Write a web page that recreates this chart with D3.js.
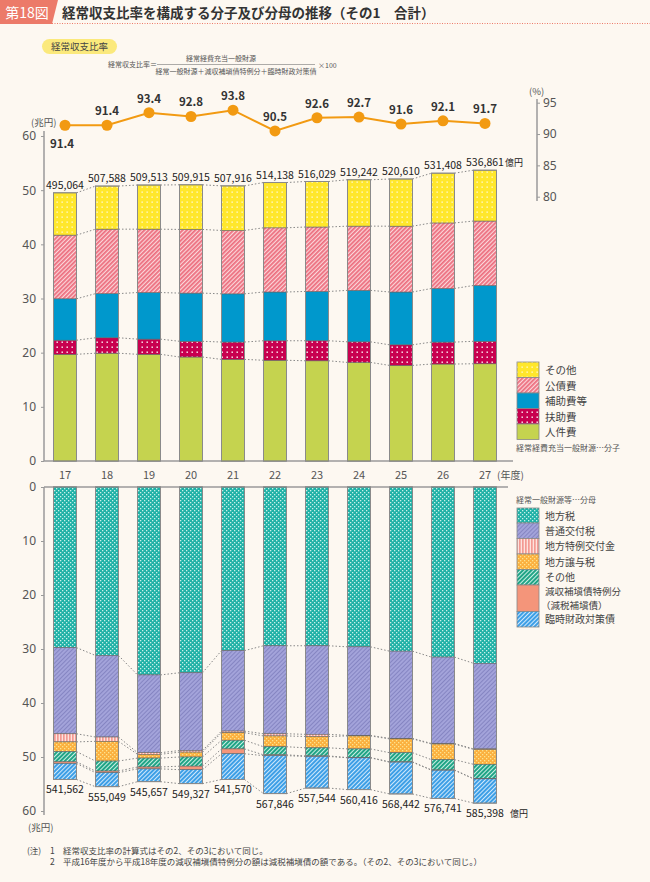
<!DOCTYPE html>
<html><head><meta charset="utf-8">
<script src="https://cdn.jsdelivr.net/npm/d3@7"></script>
<style>
html,body{margin:0;padding:0;background:#fdf8f1;}
svg{display:block;font-family:"Noto Sans CJK JP","Noto Sans",sans-serif;}
</style></head>
<body>
<svg id="c" width="650" height="882"></svg>
<script>
// ---------- data ----------
const years = ["17","18","19","20","21","22","23","24","25","26","27"];
const rates = [91.4,91.4,93.4,92.8,93.8,90.5,92.6,92.7,91.6,92.1,91.7];
// numerator (兆円)
const jinkenhi   = [19.7,19.9,19.7,19.2,18.76,18.6,18.5,18.2,17.65,17.9,17.95];
const fujohi     = [2.6,2.85,2.8,2.9,3.2,3.6,3.7,3.8,3.8,4.05,4.15];
const hojohi     = [7.65,8.15,8.6,8.9,8.9,9.0,9.1,9.5,9.75,9.9,10.3];
const kosaihi    = [11.75,11.9,11.7,11.75,11.7,11.85,11.9,11.86,12.15,12.1,11.9];
const sonotaNum  = [7.81,7.96,8.15,8.24,8.23,8.36,8.4,8.56,8.71,9.19,9.39];
const numTotals  = ["495,064","507,588","509,513","509,915","507,916","514,138","516,029","519,242","520,610","531,408","536,861"];
// denominator (兆円)
const chihozei   = [29.75,31.2,34.8,34.4,30.3,29.4,29.4,29.6,30.4,31.5,32.65];
const futsuKofu  = [15.95,15.1,14.4,14.4,14.9,16.3,16.4,16.4,16.15,16.0,15.85];
const tokurei    = [1.5,0.8,0.3,0.3,0.3,0.4,0.4,0.1,0.1,0.1,0.1];
const joyozei    = [1.8,3.65,0.7,0.9,1.4,2.0,2.1,2.4,2.55,2.9,2.75];
const sonotaDen  = [1.9,1.85,1.65,1.7,1.6,1.5,1.5,1.6,1.7,1.9,2.65];
const genshu     = [0.3,0.3,0.35,0.65,0.9,0.15,0.1,0.05,0.05,0.05,0.05];
const rinzai     = [2.96,2.6,2.37,2.58,4.76,7.03,5.85,5.89,5.89,5.22,4.49];
const denTotals  = ["541,562","555,049","545,657","549,327","541,570","567,846","557,544","560,416","568,442","576,741","585,398"];
const leftTicks  = [0,10,20,30,40,50,60];
const rateTicks  = [80,85,90,95];

const numSeries = [
  {name:"人件費", v:jinkenhi, fill:"url(#pJinken)"},
  {name:"扶助費", v:fujohi, fill:"url(#pFujo)"},
  {name:"補助費等", v:hojohi, fill:"url(#pHojo)"},
  {name:"公債費", v:kosaihi, fill:"url(#pKosai)"},
  {name:"その他", v:sonotaNum, fill:"url(#pSonota)"}
];
const denSeries = [
  {name:"地方税", v:chihozei, fill:"url(#pChiho)"},
  {name:"普通交付税", v:futsuKofu, fill:"url(#pFutsu)"},
  {name:"地方特例交付金", v:tokurei, fill:"url(#pTokurei)"},
  {name:"地方譲与税", v:joyozei, fill:"url(#pJoyo)"},
  {name:"その他", v:sonotaDen, fill:"url(#pSonota2)"},
  {name:"減収補塡債特例分", v:genshu, fill:"url(#pGenshu)"},
  {name:"臨時財政対策債", v:rinzai, fill:"url(#pRinzai)"}
];

const svg = d3.select("#c");
const defs = svg.append("defs");
function pat(id,w,h,bg,draw,rot){
  const p = defs.append("pattern").attr("id",id).attr("patternUnits","userSpaceOnUse")
    .attr("width",w).attr("height",h);
  if(rot) p.attr("patternTransform","rotate("+rot+")");
  p.append("rect").attr("width",w).attr("height",h).attr("fill",bg);
  draw(p);
}
pat("pJinken",4,4,"#c5d34f",()=>{});
pat("pFujo",5,5,"#c8004f",p=>p.append("rect").attr("x",1.5).attr("y",1.5).attr("width",1.4).attr("height",1.4).attr("fill","#fff"));
pat("pHojo",4,4,"#0098cc",()=>{});
pat("pKosai",3,3,"#fbd7da",p=>p.append("rect").attr("width",1.8).attr("height",3).attr("fill","#ec6f7f"),45);
pat("pSonota",5,5,"#ffe72c",p=>p.append("rect").attr("x",1.5).attr("y",1.5).attr("width",1.3).attr("height",1.3).attr("fill","#fffbe0"));
pat("pChiho",4,4,"#1fb1a6",p=>{p.append("rect").attr("x",0).attr("y",0).attr("width",1.3).attr("height",1.3).attr("fill","#c8f0ea");p.append("rect").attr("x",2).attr("y",2).attr("width",1.3).attr("height",1.3).attr("fill","#c8f0ea");});
pat("pFutsu",3,3,"#a3a3da",p=>p.append("rect").attr("width",1).attr("height",3).attr("fill","#8585c2"),45);
pat("pTokurei",3,3,"#fde3de",p=>p.append("rect").attr("width",1.7).attr("height",3).attr("fill","#f39a93"));
pat("pJoyo",4,4,"#fbb03e",p=>{p.append("rect").attr("x",0).attr("y",0).attr("width",1.3).attr("height",1.3).attr("fill","#fde38f");p.append("rect").attr("x",2).attr("y",2).attr("width",1.3).attr("height",1.3).attr("fill","#fde38f");});
pat("pSonota2",3,3,"#20a486",p=>p.append("rect").attr("width",1).attr("height",3).attr("fill","#c9efe4"),45);
pat("pGenshu",4,4,"#f4957a",()=>{});
pat("pRinzai",3,3,"#3d9fe6",p=>p.append("rect").attr("width",1).attr("height",3).attr("fill","#cfe8fb"),45);

const grayText = "#555";
// ---------- header ----------
svg.append("path").attr("d","M0,0 H58 L52,24 H0 Z").attr("fill","#ec7a69");
svg.append("text").attr("x",27).attr("y",18).attr("text-anchor","middle").attr("fill","#fff")
  .attr("font-size",14).text("第18図");
svg.append("text").attr("x",62).attr("y",18).attr("fill","#333").attr("font-size",13.5).attr("font-weight","bold")
  .text("経常収支比率を構成する分子及び分母の推移（その1　合計）");
svg.append("line").attr("x1",52).attr("x2",650).attr("y1",23.5).attr("y2",23.5)
  .attr("stroke","#ec7a69").attr("stroke-width",1).attr("stroke-dasharray","1,1.5");

svg.append("rect").attr("x",42).attr("y",39).attr("width",75).attr("height",15).attr("rx",7.5).attr("fill","#fbe97c");
svg.append("text").attr("x",79.5).attr("y",50).attr("text-anchor","middle").attr("font-size",9.5).attr("fill","#444").text("経常収支比率");
const f = svg.append("g").attr("font-size",7).attr("fill","#555");
f.append("text").attr("x",108).attr("y",67).text("経常収支比率＝");
f.append("text").attr("x",221).attr("y",61).attr("text-anchor","middle").text("経常経費充当一般財源");
svg.append("line").attr("x1",157).attr("x2",315).attr("y1",64.5).attr("y2",64.5).attr("stroke","#777").attr("stroke-width",0.6);
f.append("text").attr("x",236).attr("y",74).attr("text-anchor","middle").text("経常一般財源＋減収補塡債特例分＋臨時財政対策債");
f.append("text").attr("x",318).attr("y",68).text("×100");

// ---------- scales ----------
const x = d3.scalePoint().domain(years).range([65,485]);
const bw = 23;
const yTop = d3.scaleLinear().domain([0,60]).range([461,136]);
const yBot = d3.scaleLinear().domain([0,60]).range([487,811]);
const yRate = d3.scaleLinear().domain([80,95]).range([196.7,102.7]);

function styleAxis(g){
  g.selectAll("path.domain").attr("stroke","#9a9a9a").attr("stroke-width",1.5);
  g.selectAll(".tick line").attr("stroke","#9a9a9a");
  g.selectAll(".tick text").attr("fill",grayText).attr("font-size",12).attr("font-family","Noto Sans,sans-serif");
}
// top axis
const ga = svg.append("g").attr("transform","translate(44,0)")
  .call(d3.axisLeft(yTop).tickValues(leftTicks).tickSize(3).tickPadding(5));
ga.select("path.domain").attr("d","M-0,461V131");
styleAxis(ga);
svg.append("line").attr("x1",44).attr("x2",513).attr("y1",461).attr("y2",461).attr("stroke","#9a9a9a").attr("stroke-width",1.5);
svg.append("text").attr("x",31).attr("y",126).attr("font-size",9.5).attr("fill",grayText).text("(兆円)");

// bottom axis
const gb = svg.append("g").attr("transform","translate(44,0)")
  .call(d3.axisLeft(yBot).tickValues(leftTicks).tickSize(3).tickPadding(5));
gb.select("path.domain").attr("d","M-0,487V815");
styleAxis(gb);
svg.append("line").attr("x1",44).attr("x2",508).attr("y1",487).attr("y2",487).attr("stroke","#9a9a9a").attr("stroke-width",1.5);
svg.append("text").attr("x",28).attr("y",831).attr("font-size",9.5).attr("fill",grayText).text("(兆円)");

// right axis
const gr = svg.append("g").attr("transform","translate(537,0)")
  .call(d3.axisRight(yRate).tickValues(rateTicks).tickSize(3).tickPadding(3));
gr.select("path.domain").attr("d","M0,99V201");
styleAxis(gr);
svg.append("text").attr("x",529).attr("y",95).attr("font-size",9.5).attr("fill",grayText).text("(%)");

// year labels
svg.append("g").selectAll("text").data(years).join("text")
  .attr("x",d=>x(d)).attr("y",479).attr("text-anchor","middle").attr("font-size",11)
  .attr("fill",grayText).text(d=>d);
svg.append("text").attr("x",497).attr("y",479).attr("font-size",10).attr("fill",grayText).text("(年度)");

// ---------- stacked bars ----------
function stackCum(series){
  return years.map((y,i)=>{
    let c=0; return series.map(s=>{const a=c; c+=s.v[i]; return [a,c];});
  });
}
function drawStack(series, yS){
  const cum = stackCum(series);
  const g = svg.append("g");
  const nb = series.length;
  for(let k=0;k<nb;k++){
    for(let i=0;i<years.length-1;i++){
      const v1 = cum[i][k][1], v2 = cum[i+1][k][1];
      g.append("line").attr("x1",x(years[i])+bw/2).attr("x2",x(years[i+1])-bw/2)
        .attr("y1",yS(v1)).attr("y2",yS(v2)).attr("stroke","#888").attr("stroke-width",1)
        .attr("stroke-dasharray","1.5,2");
    }
  }
  series.forEach((s,k)=>{
    g.append("g").selectAll("rect").data(years).join("rect")
      .attr("x",d=>x(d)-bw/2).attr("width",bw)
      .attr("y",(d,i)=>Math.min(yS(cum[i][k][0]),yS(cum[i][k][1])))
      .attr("height",(d,i)=>Math.abs(yS(cum[i][k][1])-yS(cum[i][k][0])))
      .attr("fill",s.fill).attr("stroke","#666").attr("stroke-width",0.6);
  });
  g.append("g").selectAll("rect").data(years).join("rect")
    .attr("x",d=>x(d)-bw/2).attr("width",bw)
    .attr("y",(d,i)=>Math.min(yS(0),yS(cum[i][nb-1][1])))
    .attr("height",(d,i)=>Math.abs(yS(cum[i][nb-1][1])-yS(0)))
    .attr("fill","none").attr("stroke","#8a8a8a").attr("stroke-width",1);
  return cum;
}
const cumN = drawStack(numSeries, yTop);
const cumD = drawStack(denSeries, yBot);

// total labels
svg.append("g").selectAll("text").data(numTotals).join("text")
  .attr("x",(d,i)=>x(years[i])).attr("y",(d,i)=>yTop(cumN[i][4][1])-4)
  .attr("text-anchor","middle").attr("font-size",10.5).attr("fill","#222").text(d=>d);
svg.append("text").attr("x",x("27")+20).attr("y",yTop(cumN[10][4][1])-4).attr("font-size",9).attr("fill","#222").text("億円");
svg.append("g").selectAll("text").data(denTotals).join("text")
  .attr("x",(d,i)=>x(years[i])).attr("y",(d,i)=>yBot(cumD[i][6][1])+14)
  .attr("text-anchor","middle").attr("font-size",10.5).attr("fill","#222").text(d=>d);
svg.append("text").attr("x",x("27")+25).attr("y",yBot(cumD[10][6][1])+14).attr("font-size",9).attr("fill","#222").text("億円");

// ---------- rate line ----------
svg.append("path").datum(rates)
  .attr("d",d3.line().x((d,i)=>x(years[i])).y(d=>yRate(d)))
  .attr("fill","none").attr("stroke","#f29a12").attr("stroke-width",2);
svg.append("g").selectAll("circle").data(rates).join("circle")
  .attr("cx",(d,i)=>x(years[i])).attr("cy",d=>yRate(d)).attr("r",5.5).attr("fill","#f29a12");
svg.append("g").selectAll("text").data(rates).join("text")
  .attr("x",(d,i)=>x(years[i])+(i===0?-3:0)).attr("y",(d,i)=>i===0?yRate(d)+23:yRate(d)-10)
  .attr("text-anchor","middle").attr("font-size",11.5).attr("font-weight","bold").attr("fill","#333")
  .text(d=>d.toFixed(1));

// ---------- legends ----------
const lg1 = svg.append("g");
const leg1 = numSeries.slice().reverse();
leg1.forEach((s,i)=>{
  lg1.append("rect").attr("x",517).attr("y",362+i*15.5).attr("width",22).attr("height",15.5)
    .attr("fill",s.fill).attr("stroke","#888").attr("stroke-width",0.8);
  lg1.append("text").attr("x",545).attr("y",362+i*15.5+12).attr("font-size",10.5).attr("fill","#444").text(s.name);
});
lg1.append("text").attr("x",516).attr("y",451).attr("font-size",8).attr("fill","#555").text("経常経費充当一般財源…分子");

const lg2 = svg.append("g");
lg2.append("text").attr("x",516).attr("y",503).attr("font-size",8).attr("fill","#555").text("経常一般財源等…分母");
const hs = [15,15.5,15.5,15.5,15.5,26.5,15.5];
const labels2 = [["地方税"],["普通交付税"],["地方特例交付金"],["地方譲与税"],["その他"],["減収補塡債特例分","（減税補塡債）"],["臨時財政対策債"]];
let yy = 508;
denSeries.forEach((s,i)=>{
  lg2.append("rect").attr("x",517).attr("y",yy).attr("width",22).attr("height",hs[i])
    .attr("fill",s.fill).attr("stroke","#888").attr("stroke-width",0.8);
  labels2[i].forEach((t,j)=>{
    const fs = labels2[i].length>1 ? 9.5 : 10;
    lg2.append("text").attr("x",j===0?545:541)
      .attr("y",labels2[i].length>1 ? yy+10+j*13.5 : yy+11.5)
      .attr("font-size",fs).attr("fill","#444").text(t);
  });
  yy += hs[i];
});

// ---------- notes ----------
const nt = svg.append("g").attr("font-size",8.5).attr("fill","#444");
nt.append("text").attr("x",27).attr("y",854).text("(注)");
nt.append("text").attr("x",50).attr("y",854).text("1");
nt.append("text").attr("x",63).attr("y",854).text("経常収支比率の計算式はその2、その3において同じ。");
nt.append("text").attr("x",50).attr("y",865).text("2");
nt.append("text").attr("x",63).attr("y",865).text("平成16年度から平成18年度の減収補塡債特例分の額は減税補塡債の額である。（その2、その3において同じ。）");
</script>
</body></html>
